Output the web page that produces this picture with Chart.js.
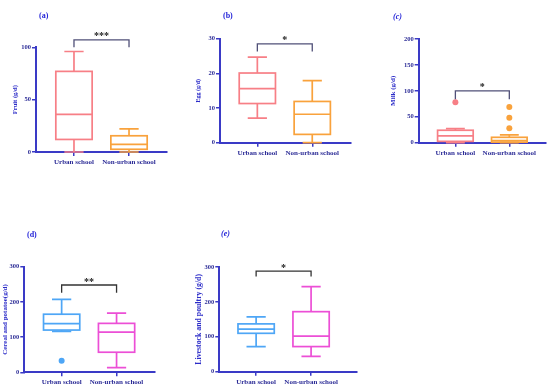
<!DOCTYPE html>
<html>
<head>
<meta charset="utf-8">
<script src="https://cdn.jsdelivr.net/npm/chart.js@4.4.1/dist/chart.umd.min.js"></script>
<style>
html, body { margin: 0; padding: 0; background: #fff; }
#wrap { position: relative; width: 550px; height: 387px; overflow: hidden; }
#wrap canvas { position: absolute; }
</style>
</head>
<body>
<div id="wrap">
	<canvas id="fruitchart"></canvas>
	<canvas id="eggchart"></canvas>
	<canvas id="milkchart"></canvas>
	<canvas id="cerealchart"></canvas>
	<canvas id="meatchart"></canvas>
</div>
<script>
var groups = ['Urban school', 'Non-urban school'];

// five-number summaries: min, q1, median, q3, max
var fruitUrban = [0, 12, 36, 77, 96];
var fruitNonUrban = [0, 2.6, 7.3, 15.5, 22];
var eggUrban = [7.1, 11.3, 15.6, 20.1, 24.7];
var eggNonUrban = [0, 2.4, 8.2, 11.9, 17.9];
var milkUrban = [0, 2.6, 13, 24, 27];
var milkNonUrban = [0, 1, 4, 10.4, 15];
var cerealUrban = [116, 120, 138, 165, 207];
var cerealNonUrban = [13, 57, 114, 139, 168];
var meatUrban = [72, 110, 122, 137, 157];
var meatNonUrban = [44, 72, 102, 172, 244];

// outliers
var milkUrbanOut = [78];
var milkNonUrbanOut = [28, 48, 69];
var cerealUrbanOut = [33];

// y tick labels
var fruitTicks = [0, 50, 100];
var eggTicks = [0, 10, 20, 30];
var milkTicks = [0, 50, 100, 150, 200];
var cerealTicks = [0, 100, 200, 300];
var meatTicks = [0, 100, 200, 300];

// significance brackets: top value, end value
var fruitSig = [107, 100];
var eggSig = [28.5, 26.3];
var milkSig = [100, 84];
var cerealSig = [248, 226];
var meatSig = [288, 273];
var sigStars = ['***', '*', '*', '**', '*'];

var axisColor = '#3a3ac6';
var textColor = '#2b2b96';
var serif = "'Liberation Serif', 'DejaVu Serif', serif";

var boxPlugin = {
	id: 'boxes',
	afterDatasetsDraw: function (chart, args, opts) {
		var ctx = chart.ctx;
		var x = chart.scales.x, y = chart.scales.y;
		var unit = x.getPixelForValue(1) - x.getPixelForValue(0);
		var bw = unit * 0.66, cw = unit * 0.35;
		ctx.save();
		ctx.lineWidth = 1.7;
		opts.stats.forEach(function (s, i) {
			var cx = x.getPixelForValue(i);
			var p = s.map(function (v) { return y.getPixelForValue(v); });
			ctx.strokeStyle = opts.colors[i];
			ctx.strokeRect(cx - bw / 2, p[3], bw, p[1] - p[3]);
			ctx.beginPath();
			ctx.moveTo(cx - bw / 2, p[2]); ctx.lineTo(cx + bw / 2, p[2]);
			ctx.moveTo(cx, p[3]); ctx.lineTo(cx, p[4]);
			ctx.moveTo(cx - cw / 2, p[4]); ctx.lineTo(cx + cw / 2, p[4]);
			ctx.moveTo(cx, p[1]); ctx.lineTo(cx, p[0]);
			ctx.moveTo(cx - cw / 2, p[0]); ctx.lineTo(cx + cw / 2, p[0]);
			ctx.stroke();
		});
		// significance bracket
		var x0 = x.getPixelForValue(0), x1 = x.getPixelForValue(1);
		var yt = y.getPixelForValue(opts.sig[0]), ye = y.getPixelForValue(opts.sig[1]);
		ctx.strokeStyle = opts.sigColor;
		ctx.lineWidth = 1.3;
		ctx.beginPath();
		ctx.moveTo(x0, ye); ctx.lineTo(x0, yt); ctx.lineTo(x1, yt); ctx.lineTo(x1, ye);
		ctx.stroke();
		ctx.fillStyle = '#222';
		ctx.font = 'bold 10px ' + serif;
		ctx.textAlign = 'center';
		ctx.textBaseline = 'alphabetic';
		ctx.fillText(opts.stars, (x0 + x1) / 2, yt - 0.5);
		// panel letter
		ctx.fillStyle = '#2424d8';
		ctx.font = (opts.italic ? 'italic ' : '') + 'bold 8px ' + serif;
		ctx.textAlign = 'left';
		ctx.textBaseline = 'middle';
		ctx.fillText(opts.label, opts.labelPos[0], opts.labelPos[1]);
		ctx.restore();
	}
};

function outliers(vals, idx, color) {
	return {
		data: vals.map(function (v) { return { x: idx, y: v }; }),
		pointRadius: 3,
		pointBackgroundColor: color,
		pointBorderWidth: 0
	};
}

function makePanel(id, p) {
	var canvas = document.getElementById(id);
	canvas.width = p.box[2];
	canvas.height = p.box[3];
	canvas.style.left = p.box[0] + 'px';
	canvas.style.top = p.box[1] + 'px';
	var padLeft = p.titleX - p.titleSize * 0.6 - p.box[0];
	var yW = p.area[0] - p.box[0] - padLeft;
	var padTop = p.area[1] - p.box[1];
	var padRight = p.box[0] + p.box[2] - p.area[2];
	var xH = p.box[1] + p.box[3] - p.area[3];
	var tickFont = { family: serif, size: 6.5, weight: 'bold' };
	var gridOpts = { drawOnChartArea: false, drawTicks: true, tickLength: 4, color: axisColor, lineWidth: 1.5 };
	return new Chart(canvas.getContext('2d'), {
		type: 'scatter',
		data: { datasets: p.outliers },
		plugins: [boxPlugin],
		options: {
			responsive: false,
			animation: false,
			events: [],
			layout: { padding: { left: padLeft, top: padTop, right: padRight, bottom: 0 } },
			plugins: {
				legend: { display: false },
				tooltip: { enabled: false },
				boxes: {
					stats: p.stats,
					colors: p.colors,
					sig: p.sig,
					sigColor: p.sigColor,
					stars: p.stars,
					label: p.label,
					italic: p.italic,
					labelPos: [p.labelPos[0] - p.box[0], p.labelPos[1] - p.box[1]]
				}
			},
			scales: {
				x: {
					type: 'linear',
					min: p.xRange[0],
					max: p.xRange[1],
					afterBuildTicks: function (s) { s.ticks = [{ value: 0 }, { value: 1 }]; },
					afterFit: function (s) { s.height = xH; },
					ticks: {
						callback: function (v) { return groups[v]; },
						font: { family: serif, size: 7, weight: 'bold' },
						color: textColor,
						padding: 2,
						maxRotation: 0,
						autoSkip: false
					},
					grid: gridOpts,
					border: { color: axisColor, width: 2 }
				},
				y: {
					min: 0,
					max: p.ticks[p.ticks.length - 1],
					afterBuildTicks: function (s) { s.ticks = p.ticks.map(function (v) { return { value: v }; }); },
					afterFit: function (s) { s.width = yW; },
					ticks: { font: tickFont, color: textColor, padding: 1 },
					grid: gridOpts,
					border: { color: axisColor, width: 2 },
					title: {
						display: true,
						text: p.yTitle,
						font: { family: serif, size: p.titleSize, weight: 'bold' },
						color: '#2c2cc8',
						padding: 0
					}
				}
			}
		}
	});
}

var pink = '#f77f86', orange = '#f9a23c', blue = '#4ea6f6', magenta = '#ec4fd6';

makePanel('fruitchart', {
	box: [0, 0, 180, 185], area: [36, 47.3, 167, 152], titleX: 15, titleSize: 6.5, xRange: [-0.69, 1.69],
	ticks: fruitTicks, yTitle: 'Fruit (g/d)', stats: [fruitUrban, fruitNonUrban], colors: [pink, orange],
	outliers: [], sig: fruitSig, sigColor: '#505078', stars: sigStars[0], label: '(a)', labelPos: [39, 16]
});
makePanel('eggchart', {
	box: [180, 0, 180, 185], area: [220, 38.7, 350.7, 142.7], titleX: 198, titleSize: 6, xRange: [-0.68, 1.70],
	ticks: eggTicks, yTitle: 'Egg (g/d)', stats: [eggUrban, eggNonUrban], colors: [pink, orange],
	outliers: [], sig: eggSig, sigColor: '#505078', stars: sigStars[1], label: '(b)', labelPos: [223, 16]
});
makePanel('milkchart', {
	box: [360, 0, 190, 185], area: [418.7, 39, 546.7, 142.7], titleX: 393, titleSize: 7, xRange: [-0.68, 1.68],
	ticks: milkTicks, yTitle: 'Milk (g/d)', stats: [milkUrban, milkNonUrban], colors: [pink, orange],
	outliers: [outliers(milkUrbanOut, 0, pink), outliers(milkNonUrbanOut, 1, orange)],
	sig: milkSig, sigColor: '#505078', stars: sigStars[2], label: '(c)', italic: true, labelPos: [393, 17]
});
makePanel('cerealchart', {
	box: [0, 190, 180, 197], area: [24.3, 266.7, 155, 372.3], titleX: 5.5, titleSize: 7, xRange: [-0.68, 1.70],
	ticks: cerealTicks, yTitle: 'Cereal and potatoe(g/d)', stats: [cerealUrban, cerealNonUrban], colors: [blue, magenta],
	outliers: [outliers(cerealUrbanOut, 0, blue)],
	sig: cerealSig, sigColor: '#333', stars: sigStars[3], label: '(d)', labelPos: [27, 235]
});
makePanel('meatchart', {
	box: [180, 190, 190, 197], area: [219.3, 267, 356.7, 371.7], titleX: 198.5, titleSize: 7.8, xRange: [-0.67, 1.83],
	ticks: meatTicks, yTitle: 'Livestock and poultry (g/d)', stats: [meatUrban, meatNonUrban], colors: [blue, magenta],
	outliers: [], sig: meatSig, sigColor: '#333', stars: sigStars[4], label: '(e)', italic: true, labelPos: [221, 234]
});
</script>
</body>
</html>
